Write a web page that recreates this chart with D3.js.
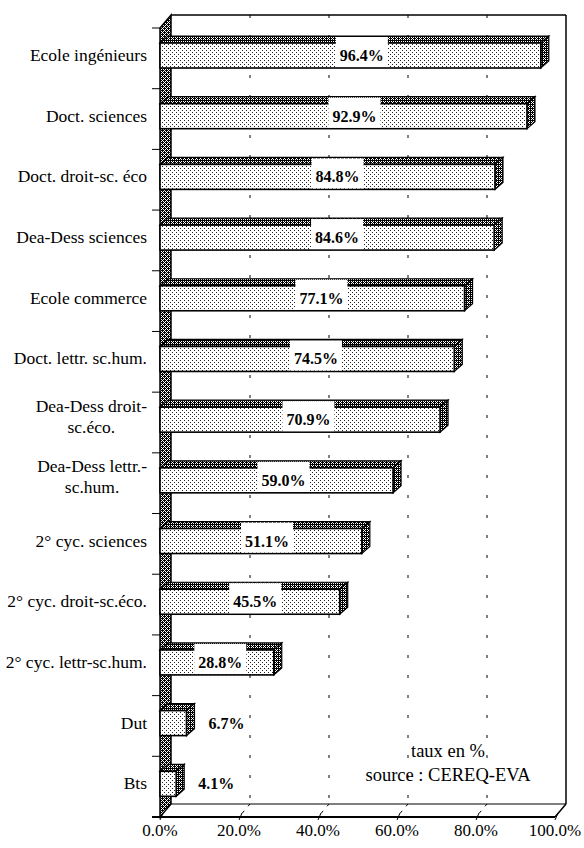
<!DOCTYPE html>
<html>
<head>
<meta charset="utf-8">
<script src="https://cdn.jsdelivr.net/npm/d3@7"></script>
<style>
  html, body { margin: 0; padding: 0; background: #fff; }
  svg { display: block; font-family: "Liberation Serif", "Times New Roman", serif; }
</style>
</head>
<body>
<div id="chart"></div>
<script>
// ── Data ──────────────────────────────────────────────────────────────────
const categories = [
  'Ecole ingénieurs', 'Doct. sciences', 'Doct. droit-sc. éco', 'Dea-Dess sciences',
  'Ecole commerce', 'Doct. lettr. sc.hum.', 'Dea-Dess droit-\nsc.éco.', 'Dea-Dess lettr.-\nsc.hum.',
  '2° cyc. sciences', '2° cyc. droit-sc.éco.', '2° cyc. lettr-sc.hum.', 'Dut', 'Bts',
];
const values = [96.4, 92.9, 84.8, 84.6, 77.1, 74.5, 70.9, 59.0, 51.1, 45.5, 28.8, 6.7, 4.1];
const xTicks = [0, 20, 40, 60, 80, 100];
const notes  = ['taux en %', 'source : CEREQ-EVA'];

// ── Layout ────────────────────────────────────────────────────────────────
const W = 584, H = 848;
const X0 = 160, X1 = 555, Y0 = 28, Y1 = 817;
const DX = 11, DY = 13;        // depth of the plot box
const BDX = 8, BDY = 7;        // depth of a bar
const FACE_OFF = 15, FACE_H = 25;

const x = d3.scaleLinear().domain([0, 100]).range([X0, X1]);
const y = d3.scaleBand().domain(categories).range([Y0, Y1]).padding(0);
const fmt = d3.format('.1f');

const svg = d3.select('#chart').append('svg')
  .attr('width', W).attr('height', H).attr('viewBox', `0 0 ${W} ${H}`)
  .attr('font-family', "'Liberation Serif', 'Times New Roman', serif");

svg.append('rect').attr('width', W).attr('height', H).attr('fill', '#fff');

// ── Patterns ──────────────────────────────────────────────────────────────
const defs = svg.append('defs');

function pattern(id, size, bg, fg, cells) {
  const p = defs.append('pattern').attr('id', id)
    .attr('patternUnits', 'userSpaceOnUse').attr('width', size).attr('height', size);
  p.append('rect').attr('width', size).attr('height', size).attr('fill', bg)
    .attr('shape-rendering', 'crispEdges');
  cells.forEach(([cx, cy]) => p.append('rect')
    .attr('x', cx).attr('y', cy).attr('width', 1).attr('height', 1)
    .attr('fill', fg).attr('shape-rendering', 'crispEdges'));
}
// light stipple for the bar fronts
pattern('dots', 4, '#fff', '#222', [[0, 0], [2, 2]]);
// dark check for bar tops / sides
pattern('checker', 4, '#000', '#fff', [[1, 1], [3, 3], [1, 3], [3, 1], [0, 2]]);
// dark check for the side wall
pattern('wall', 4, '#000', '#fff', [[1, 1], [3, 3], [1, 3], [3, 1], [2, 0], [0, 2]]);

const line = (x1, y1, x2, y2, w = 1.2) => svg.append('line')
  .attr('x1', x1).attr('y1', y1).attr('x2', x2).attr('y2', y2)
  .attr('stroke', '#000').attr('stroke-width', w);

// ── Back wall and floor ───────────────────────────────────────────────────
line(X0 + DX, Y0 - DY, X1 + DX, Y0 - DY, 1.5);
line(X1 + DX, Y0 - DY, X1 + DX, Y1 - DY, 1.5);
line(X0 + DX, Y1 - DY, X1 + DX, Y1 - DY, 1.2);
line(X1, Y1, X1 + DX, Y1 - DY, 1.5);

// dashed gridlines on back wall and floor
xTicks.filter(t => t > 0 && t < 100).forEach(t => {
  svg.append('line')
    .attr('x1', x(t) + DX).attr('y1', Y0 - DY).attr('x2', x(t) + DX).attr('y2', Y1 - DY)
    .attr('stroke', '#000').attr('stroke-width', 1).attr('stroke-dasharray', '3,17');
  svg.append('line')
    .attr('x1', x(t) + DX).attr('y1', Y1 - DY).attr('x2', x(t)).attr('y2', Y1)
    .attr('stroke', '#000').attr('stroke-width', 1).attr('stroke-dasharray', '3,6');
});

// left wall
svg.append('polygon')
  .attr('points', [[X0, Y0], [X0 + DX, Y0 - DY], [X0 + DX, Y1 - DY], [X0, Y1]].join(' '))
  .attr('fill', 'url(#wall)').attr('stroke', '#000').attr('stroke-width', 1.5);

// ── Bars ──────────────────────────────────────────────────────────────────
const bars = svg.append('g').selectAll('g').data(categories).join('g');

bars.each(function(c, i) {
  const g = d3.select(this);
  const fy = y(c) + FACE_OFF;
  const xv = x(values[i]);
  g.append('polygon')
    .attr('points', [[X0, fy], [X0 + BDX, fy - BDY], [xv + BDX, fy - BDY], [xv, fy]].join(' '))
    .attr('fill', 'url(#checker)').attr('stroke', '#000').attr('stroke-width', 1.2);
  g.append('polygon')
    .attr('points', [[xv, fy], [xv + BDX, fy - BDY], [xv + BDX, fy + FACE_H - BDY], [xv, fy + FACE_H]].join(' '))
    .attr('fill', 'url(#checker)').attr('stroke', '#000').attr('stroke-width', 1.2);
  g.append('rect')
    .attr('x', X0).attr('y', fy).attr('width', xv - X0).attr('height', FACE_H)
    .attr('fill', 'url(#dots)').attr('stroke', '#000').attr('stroke-width', 1.6);
});

// value labels
const labelX = v => v >= 20 ? x(v * 0.53) : x(v) + 40;
categories.forEach((c, i) => {
  const fy = y(c) + FACE_OFF;
  const cx = labelX(values[i]);
  const t = svg.append('text')
    .attr('x', cx).attr('y', fy + FACE_H / 2 + 5.5)
    .attr('text-anchor', 'middle').attr('font-size', 16).attr('font-weight', 'bold')
    .text(fmt(values[i]) + '%');
  const w = t.node().getComputedTextLength();
  svg.insert('rect', () => t.node())
    .attr('x', cx - w / 2 - 4).attr('y', fy - BDY + 1)
    .attr('width', w + 8).attr('height', FACE_H + BDY - 2)
    .attr('fill', '#fff');
});

// ── Category axis ─────────────────────────────────────────────────────────
d3.range(categories.length + 1).forEach(k => {
  const yy = Y0 + k * y.step();
  line(X0 - 8, yy, X0, yy, 1);
});

categories.forEach(c => {
  const cy = y(c) + FACE_OFF + FACE_H / 2;
  const parts = c.split('\n');
  const t = svg.append('text').attr('font-size', 17.5);
  if (parts.length === 1) {
    t.attr('x', 147).attr('y', cy + 5.5).attr('text-anchor', 'end').text(c);
  } else {
    const spans = parts.map((p, j) => t.append('tspan')
      .attr('y', cy - 3 + (j - 0.5) * 21 + 5.5).text(p));
    const maxW = d3.max(spans, s => s.node().getComputedTextLength());
    t.attr('text-anchor', 'middle');
    spans.forEach(s => s.attr('x', 147 - maxW / 2));
  }
});

// ── Value axis ────────────────────────────────────────────────────────────
line(X0 - 8, Y1, X1, Y1, 1.8);
xTicks.forEach(t => {
  line(x(t), Y1 + 3, x(t) + 3, Y1 - 4, 1);
  svg.append('text')
    .attr('x', x(t)).attr('y', Y1 + 19)
    .attr('text-anchor', 'middle').attr('font-size', 17)
    .text(fmt(t) + '%');
});

// ── Notes ─────────────────────────────────────────────────────────────────
notes.forEach((n, j) => {
  svg.append('text')
    .attr('x', 448).attr('y', 757 + j * 24)
    .attr('text-anchor', 'middle').attr('font-size', 18.5)
    .text(n);
});
</script>
</body>
</html>
